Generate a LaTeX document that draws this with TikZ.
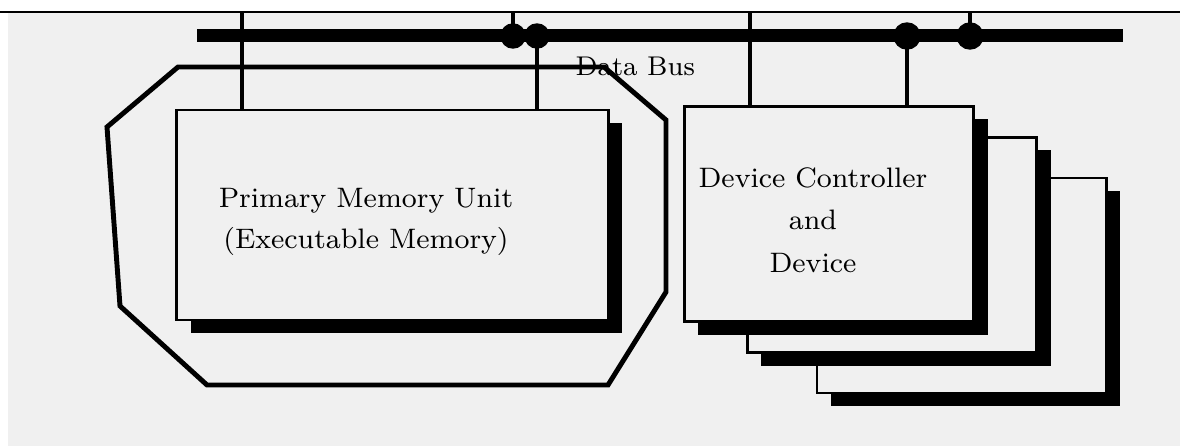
\documentclass[tikz,border=0pt]{standalone}
\usepackage{xcolor}
\usetikzlibrary{shadows}
\definecolor{paper}{RGB}{240,240,240}

\begin{document}
\begin{tikzpicture}[x=0.01cm,y=-0.01cm,
	box/.style={draw,line width=0.8pt,fill=paper,inner sep=0pt,
		drop shadow={shadow xshift=0.14cm,shadow yshift=-0.13cm,fill=black,opacity=1}},
	devbox/.style={box,minimum width=2.89cm,minimum height=2.15cm},
	wire/.style={line width=1.4pt},
	boxtext/.style={align=center,inner sep=0pt,font=\fontsize{8.0}{11.7}\selectfont}]
	\useasboundingbox (0,0) rectangle (1180,446);
	\fill[white] (0,0) rectangle (1180,446);
	\fill[paper] (8,12) rectangle (1180,446);
	\draw[line width=0.6pt] (0,12) -- (1180,12);
	
	% data bus
	\coordinate (busL) at (197,36);
	\coordinate (busR) at (1123,36);
	\draw[line width=0.13cm] (busL) -- (busR);
	\node[boxtext,font=\fontsize{7.7}{10}\selectfont,anchor=base west] (buslabel) at (575,76) {Data Bus};
	
	% primary memory
	\node[box,minimum width=4.31cm,minimum height=2.1cm] (pmu) at (392.5,215) {};
	\node[boxtext] (pmutext) at (366,222) {Primary Memory Unit\\(Executable Memory)};
	
	% devices, back to front
	\node[devbox] (dev3) at (961.5,285.5) {};
	\node[devbox] (dev2) at (892,245) {};
	\node[devbox] (dev1) at (829,214) {};
	\node[boxtext,font=\fontsize{8.0}{12.1}\selectfont] (devtext) at (813,220) {Device Controller\\and\\Device};
	
	% taps on the bus
	\coordinate (t1) at (242,12);
	\coordinate (t2) at (513,12);
	\coordinate (t3) at (750,12);
	\coordinate (t4) at (970,12);
	\coordinate (d1) at (513,36);
	\coordinate (d2) at (537,36);
	\coordinate (d3) at (907,36);
	\coordinate (d4) at (970,36);
	
	\draw[wire] (t1) -- (t1 |- pmu.north);
	\draw[wire] (t2) -- (d1);
	\draw[wire] (d2) -- (d2 |- pmu.north);
	\draw[wire] (t3) -- (t3 |- dev1.north);
	\draw[wire] (d3) -- (d3 |- dev1.north);
	\draw[wire] (t4) -- (d4);
	
	\filldraw (d1) circle (0.12cm);
	\filldraw (d2) circle (0.12cm);
	\filldraw (d3) circle (0.13cm);
	\filldraw (d4) circle (0.13cm);
	
	% memory region outline
	\draw[line width=1.4pt] (178,67) -- (604,67) -- (666,120) -- (666,292)
		-- (608,385) -- (207,385) -- (120,306) -- (107,127) -- cycle;
\end{tikzpicture}
\end{document}
